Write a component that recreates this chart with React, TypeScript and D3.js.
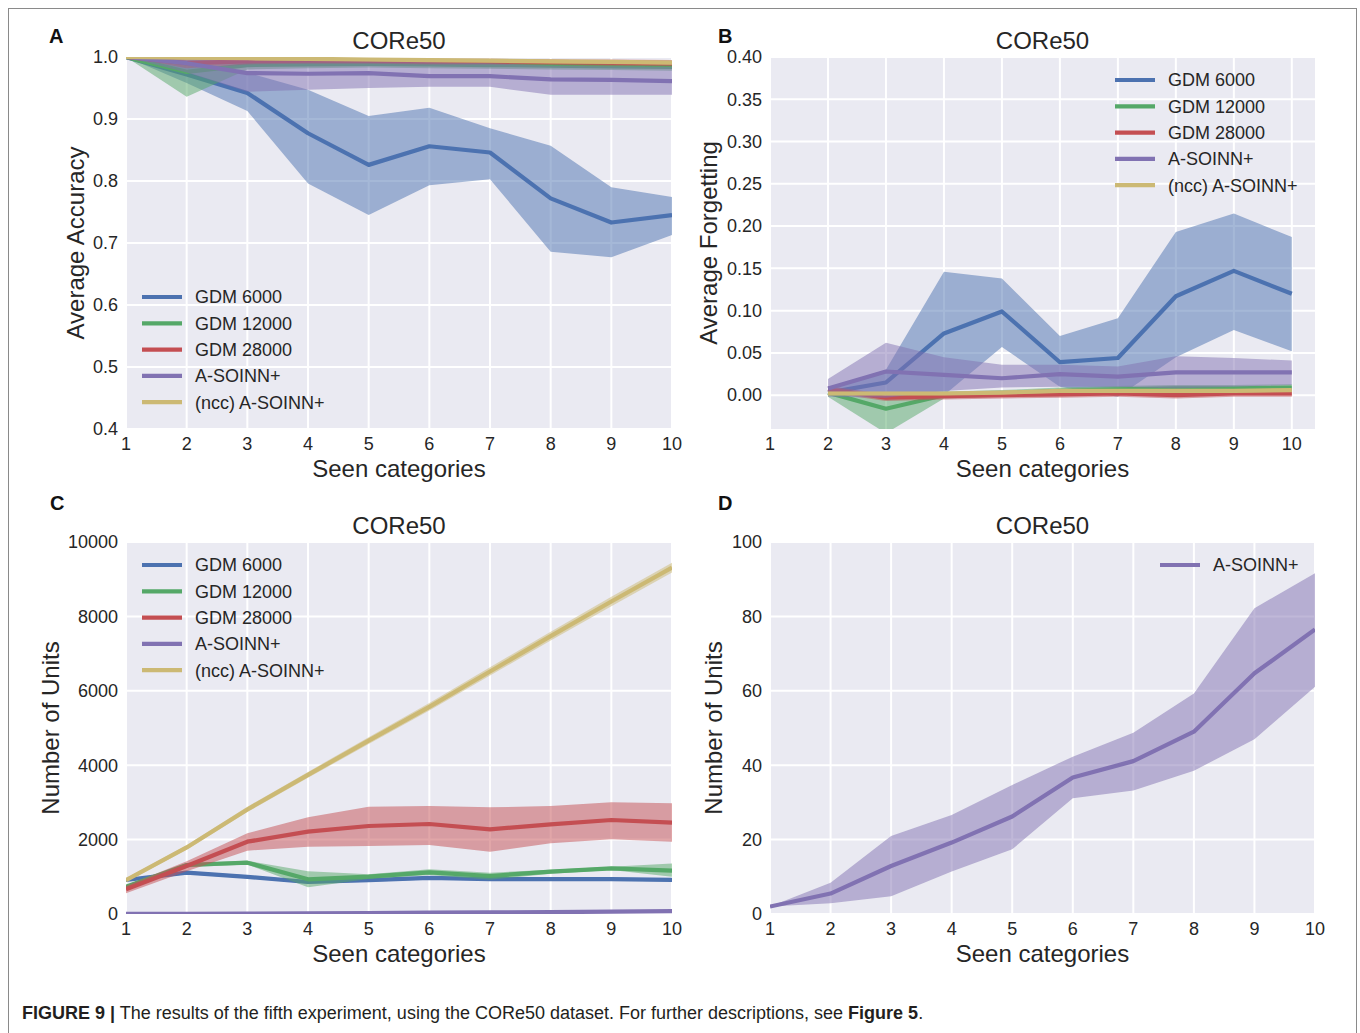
import * as d3 from "d3";

// ---- data ----
const categories = [1, 2, 3, 4, 5, 6, 7, 8, 9, 10];
const forgetCategories = [2, 3, 4, 5, 6, 7, 8, 9, 10];
const seriesNames = ["GDM 6000", "GDM 12000", "GDM 28000", "A-SOINN+", "(ncc) A-SOINN+"];
const seriesColors = ["#4C72B0", "#55A868", "#C44E52", "#8172B2", "#CCB974"];

// A: average accuracy
const accGdm6000 = [1.0, 0.972, 0.942, 0.877, 0.826, 0.856, 0.846, 0.772, 0.733, 0.745];
const accGdm6000Lo = [1.0, 0.958, 0.913, 0.796, 0.745, 0.793, 0.803, 0.686, 0.677, 0.713];
const accGdm6000Hi = [1.0, 0.99, 0.975, 0.947, 0.905, 0.918, 0.885, 0.857, 0.79, 0.774];
const accGdm12000 = [1.0, 0.976, 0.987, 0.988, 0.989, 0.988, 0.987, 0.986, 0.985, 0.984];
const accGdm12000Lo = [1.0, 0.936, 0.98, 0.982, 0.983, 0.982, 0.981, 0.98, 0.979, 0.978];
const accGdm12000Hi = [1.0, 0.996, 0.993, 0.994, 0.995, 0.994, 0.993, 0.992, 0.991, 0.99];
const accGdm28000 = [1.0, 0.99, 0.993, 0.994, 0.994, 0.993, 0.993, 0.992, 0.991, 0.99];
const accGdm28000Lo = [1.0, 0.982, 0.988, 0.989, 0.989, 0.988, 0.988, 0.987, 0.986, 0.985];
const accGdm28000Hi = [1.0, 0.997, 0.998, 0.998, 0.998, 0.997, 0.997, 0.996, 0.996, 0.995];
const accAsoinn = [1.0, 0.99, 0.974, 0.973, 0.974, 0.969, 0.969, 0.964, 0.963, 0.961];
const accAsoinnLo = [1.0, 0.975, 0.944, 0.947, 0.95, 0.952, 0.952, 0.939, 0.939, 0.939];
const accAsoinnHi = [1.0, 1.0, 1.0, 0.999, 0.996, 0.992, 0.99, 0.986, 0.985, 0.984];
const accNcc = [1.0, 0.999, 0.998, 0.997, 0.996, 0.995, 0.994, 0.993, 0.992, 0.991];
const accNccLo = [1.0, 0.996, 0.995, 0.994, 0.993, 0.992, 0.991, 0.99, 0.989, 0.988];
const accNccHi = [1.0, 1.0, 1.0, 0.999, 0.998, 0.997, 0.996, 0.995, 0.994, 0.993];

// B: average forgetting (from category 2)
const fgtGdm6000 = [0.003, 0.015, 0.073, 0.099, 0.039, 0.044, 0.117, 0.147, 0.12];
const fgtGdm6000Lo = [0.0, 0.0, 0.0, 0.057, 0.01, -0.002, 0.045, 0.077, 0.052];
const fgtGdm6000Hi = [0.008, 0.03, 0.146, 0.138, 0.07, 0.091, 0.193, 0.215, 0.187];
const fgtGdm12000 = [0.003, -0.016, 0.0, 0.002, 0.005, 0.007, 0.008, 0.008, 0.009];
const fgtGdm12000Lo = [-0.002, -0.045, -0.004, -0.002, 0.001, 0.003, 0.004, 0.004, 0.005];
const fgtGdm12000Hi = [0.008, -0.002, 0.004, 0.006, 0.009, 0.011, 0.012, 0.012, 0.013];
const fgtGdm28000 = [0.007, -0.003, -0.001, 0.0, 0.001, 0.002, 0.0, 0.002, 0.002];
const fgtGdm28000Lo = [0.003, -0.007, -0.005, -0.004, -0.003, -0.002, -0.004, -0.002, -0.002];
const fgtGdm28000Hi = [0.011, 0.001, 0.003, 0.004, 0.005, 0.006, 0.004, 0.006, 0.006];
const fgtAsoinn = [0.008, 0.028, 0.024, 0.02, 0.025, 0.022, 0.027, 0.027, 0.027];
const fgtAsoinnLo = [-0.002, -0.003, 0.005, 0.009, 0.01, 0.01, 0.008, 0.01, 0.012];
const fgtAsoinnHi = [0.019, 0.062, 0.045, 0.036, 0.036, 0.034, 0.046, 0.044, 0.041];
const fgtNcc = [0.002, 0.002, 0.002, 0.003, 0.005, 0.005, 0.005, 0.005, 0.006];
const fgtNccLo = [0.0, 0.0, 0.0, 0.001, 0.003, 0.003, 0.003, 0.003, 0.004];
const fgtNccHi = [0.004, 0.004, 0.004, 0.005, 0.007, 0.007, 0.007, 0.007, 0.008];

// C: number of units
const unitsGdm6000 = [914, 1110, 1000, 860, 910, 970, 940, 940, 940, 915];
const unitsGdm6000Lo = [880, 1070, 960, 820, 870, 930, 900, 900, 900, 875];
const unitsGdm6000Hi = [950, 1150, 1040, 900, 950, 1010, 980, 980, 980, 955];
const unitsGdm12000 = [735, 1317, 1380, 932, 1003, 1120, 1021, 1138, 1227, 1165];
const unitsGdm12000Lo = [700, 1260, 1330, 720, 940, 1050, 920, 1080, 1180, 1000];
const unitsGdm12000Hi = [770, 1370, 1430, 1150, 1070, 1200, 1110, 1190, 1270, 1360];
const unitsGdm28000 = [663, 1290, 1944, 2213, 2366, 2419, 2276, 2410, 2527, 2455];
const unitsGdm28000Lo = [560, 1150, 1703, 1810, 1828, 1855, 1676, 1900, 2007, 1944];
const unitsGdm28000Hi = [760, 1420, 2168, 2599, 2885, 2903, 2867, 2903, 3002, 2975];
const unitsNcc = [910, 1790, 2810, 3740, 4660, 5570, 6520, 7470, 8400, 9310];
const unitsNccLo = [860, 1730, 2740, 3660, 4570, 5470, 6410, 7350, 8270, 9180];
const unitsNccHi = [960, 1850, 2880, 3820, 4750, 5670, 6630, 7590, 8530, 9440];

// D: A-SOINN+ units (also bottom line of C)
const unitsAsoinn = [2, 5.5, 12.9, 19.2, 26.2, 36.7, 41.1, 49.0, 64.7, 76.5];
const unitsAsoinnLo = [2, 2.9, 4.8, 11.4, 17.4, 31.1, 33.2, 38.5, 47.0, 61.1];
const unitsAsoinnHi = [2, 8.4, 21.0, 26.6, 34.7, 42.3, 48.7, 59.3, 82.2, 91.6];

const accTicks = [0.4, 0.5, 0.6, 0.7, 0.8, 0.9, 1.0];
const fgtTicks = [0, 0.05, 0.1, 0.15, 0.2, 0.25, 0.3, 0.35, 0.4];
const unitsTicks = [0, 2000, 4000, 6000, 8000, 10000];
const asoinnTicks = [0, 20, 40, 60, 80, 100];

type Series = { name: string; color: string; x: number[]; mean: number[]; lo: number[]; hi: number[] };

const mk = (i: number, x: number[], mean: number[], lo: number[], hi: number[]): Series => ({
  name: seriesNames[i], color: seriesColors[i], x, mean, lo, hi,
});

const accSeries = [
  mk(0, categories, accGdm6000, accGdm6000Lo, accGdm6000Hi),
  mk(1, categories, accGdm12000, accGdm12000Lo, accGdm12000Hi),
  mk(2, categories, accGdm28000, accGdm28000Lo, accGdm28000Hi),
  mk(3, categories, accAsoinn, accAsoinnLo, accAsoinnHi),
  mk(4, categories, accNcc, accNccLo, accNccHi),
];
const fgtSeries = [
  mk(0, forgetCategories, fgtGdm6000, fgtGdm6000Lo, fgtGdm6000Hi),
  mk(1, forgetCategories, fgtGdm12000, fgtGdm12000Lo, fgtGdm12000Hi),
  mk(2, forgetCategories, fgtGdm28000, fgtGdm28000Lo, fgtGdm28000Hi),
  mk(3, forgetCategories, fgtAsoinn, fgtAsoinnLo, fgtAsoinnHi),
  mk(4, forgetCategories, fgtNcc, fgtNccLo, fgtNccHi),
];
const unitSeries = [
  mk(0, categories, unitsGdm6000, unitsGdm6000Lo, unitsGdm6000Hi),
  mk(1, categories, unitsGdm12000, unitsGdm12000Lo, unitsGdm12000Hi),
  mk(2, categories, unitsGdm28000, unitsGdm28000Lo, unitsGdm28000Hi),
  mk(3, categories, unitsAsoinn, unitsAsoinnLo, unitsAsoinnHi),
  mk(4, categories, unitsNcc, unitsNccLo, unitsNccHi),
];
const asoinnSeries = [mk(3, categories, unitsAsoinn, unitsAsoinnLo, unitsAsoinnHi)];

const FONT = "'Liberation Sans', Arial, sans-serif";
const TXT = "#262626";

interface PanelProps {
  id: string;
  letter: string;
  letterX: number;
  letterY: number;
  left: number; right: number; top: number; bottom: number;
  xDomain: [number, number];
  yDomain: [number, number];
  yTicks: number[];
  yFmt: (v: number) => string;
  ylabel: string;
  ylabelX: number;
  series: Series[];
  legendX: number;
  legendY: number;
}

function Panel(p: PanelProps) {
  const x = d3.scaleLinear().domain(p.xDomain).range([p.left, p.right]);
  const y = d3.scaleLinear().domain(p.yDomain).range([p.bottom, p.top]);
  const cx = (p.left + p.right) / 2;
  const cy = (p.top + p.bottom) / 2;
  const line = (s: Series) =>
    d3.line<number>().x((_, i) => x(s.x[i])).y((d) => y(d))(s.mean) || "";
  const area = (s: Series) =>
    d3.area<number>().x((_, i) => x(s.x[i])).y0((_, i) => y(s.lo[i])).y1((d) => y(d))(s.hi) || "";
  return (
    <g fontFamily={FONT}>
      <defs>
        <clipPath id={`clip-${p.id}`}>
          <rect x={p.left} y={p.top} width={p.right - p.left} height={p.bottom - p.top} />
        </clipPath>
      </defs>
      <rect x={p.left} y={p.top} width={p.right - p.left} height={p.bottom - p.top} fill="#EAEAF2" />
      {categories.map((c) => (
        <line key={`gx${c}`} x1={x(c)} x2={x(c)} y1={p.top} y2={p.bottom} stroke="#fff" strokeWidth={2} />
      ))}
      {p.yTicks.map((t) => (
        <line key={`gy${t}`} x1={p.left} x2={p.right} y1={y(t)} y2={y(t)} stroke="#fff" strokeWidth={2} />
      ))}
      <g clipPath={`url(#clip-${p.id})`}>
        {p.series.map((s) => (
          <g key={s.name}>
            <path d={area(s)} fill={s.color} fillOpacity={0.5} stroke="none" />
            <path d={line(s)} fill="none" stroke={s.color} strokeWidth={4.2} strokeLinejoin="round" />
          </g>
        ))}
      </g>
      {categories.map((c) => (
        <text key={`tx${c}`} x={x(c)} y={p.bottom + 21} textAnchor="middle" fontSize={18} fill={TXT}>{c}</text>
      ))}
      {p.yTicks.map((t) => (
        <text key={`ty${t}`} x={p.left - 8} y={y(t)} dy="0.35em" textAnchor="end" fontSize={18} fill={TXT}>{p.yFmt(t)}</text>
      ))}
      <text x={cx} y={p.top - 8} textAnchor="middle" fontSize={24} fill={TXT}>CORe50</text>
      <text x={cx} y={p.bottom + 48} textAnchor="middle" fontSize={24} fill={TXT}>Seen categories</text>
      <text transform={`translate(${p.ylabelX},${cy}) rotate(-90)`} textAnchor="middle" dominantBaseline="central" fontSize={24} fill={TXT}>{p.ylabel}</text>
      <text x={p.letterX} y={p.letterY} fontSize={20} fontWeight="bold" fill="#111">{p.letter}</text>
      {p.series.map((s, i) => (
        <g key={`lg${s.name}`}>
          <line x1={p.legendX} x2={p.legendX + 40} y1={p.legendY + i * 26.3} y2={p.legendY + i * 26.3} stroke={s.color} strokeWidth={4.2} />
          <text x={p.legendX + 53} y={p.legendY + i * 26.3} dy="0.35em" fontSize={18} fill={TXT}>{s.name}</text>
        </g>
      ))}
    </g>
  );
}

export default function App() {
  const fmt1 = d3.format(".1f");
  const fmt2 = d3.format(".2f");
  const fmt0 = d3.format("d");
  return (
    <svg width={1360} height={1033} style={{ position: "absolute", left: 0, top: 0, background: "#fff" }}>
      <line x1={8} x2={1357} y1={8.5} y2={8.5} stroke="#8a8a8a" strokeWidth={1} />
      <line x1={8.5} x2={8.5} y1={8} y2={1033} stroke="#8a8a8a" strokeWidth={1} />
      <line x1={1356.5} x2={1356.5} y1={8} y2={1033} stroke="#8a8a8a" strokeWidth={1} />
      <Panel id="a" letter="A" letterX={49} letterY={43} left={126} right={672} top={57} bottom={429} xDomain={[1, 10]} yDomain={[0.4, 1.0]}
        yTicks={accTicks} yFmt={fmt1} ylabel="Average Accuracy" ylabelX={75} series={accSeries} legendX={142} legendY={297} />
      <Panel id="b" letter="B" letterX={718} letterY={43} left={770} right={1315} top={57} bottom={429} xDomain={[1, 10.4]} yDomain={[-0.04, 0.4]}
        yTicks={fgtTicks} yFmt={fmt2} ylabel="Average Forgetting" ylabelX={708} series={fgtSeries} legendX={1115} legendY={80} />
      <Panel id="c" letter="C" letterX={50} letterY={510} left={126} right={672} top={542} bottom={914} xDomain={[1, 10]} yDomain={[0, 10000]}
        yTicks={unitsTicks} yFmt={fmt0} ylabel="Number of Units" ylabelX={50} series={unitSeries} legendX={142} legendY={565} />
      <Panel id="d" letter="D" letterX={718} letterY={510} left={770} right={1315} top={542} bottom={914} xDomain={[1, 10]} yDomain={[0, 100]}
        yTicks={asoinnTicks} yFmt={fmt0} ylabel="Number of Units" ylabelX={713} series={asoinnSeries} legendX={1160} legendY={565} />
      <text x={22} y={1019} fontFamily={FONT} fontSize={18} fill="#231f20">
        <tspan fontWeight="bold">FIGURE 9 |</tspan>
        <tspan> The results of the fifth experiment, using the CORe50 dataset. For further descriptions, see </tspan>
        <tspan fontWeight="bold">Figure 5</tspan>
        <tspan>.</tspan>
      </text>
    </svg>
  );
}
